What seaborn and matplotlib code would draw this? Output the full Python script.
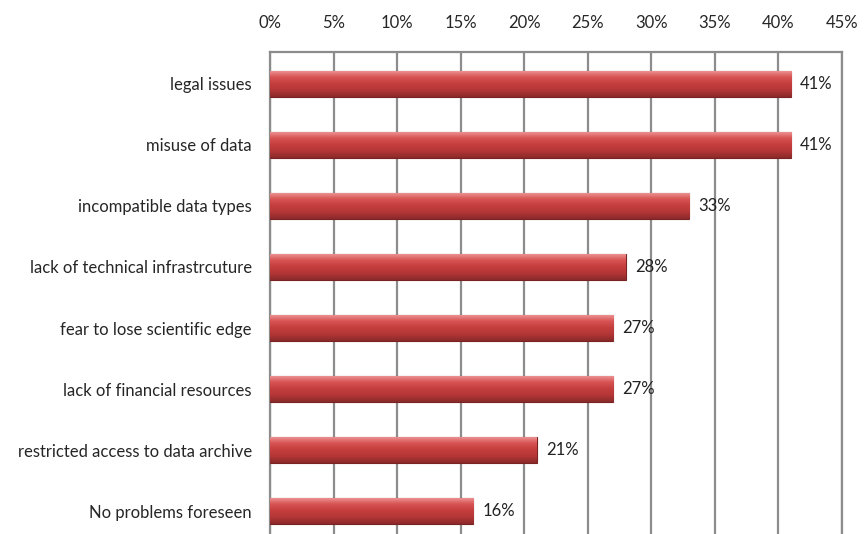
import numpy as np
import pandas as pd
import matplotlib
matplotlib.use("Agg")
import matplotlib.pyplot as plt
import seaborn as sns
from matplotlib.colors import LinearSegmentedColormap

# survey answers, share of respondents (%)
categories = [
    "legal issues",
    "misuse of data",
    "incompatible data types",
    "lack of technical infrastrcuture",
    "fear to lose scientific edge",
    "lack of financial resources",
    "restricted access to data archive",
    "No problems foreseen",
]
shares = [41, 41, 33, 28, 27, 27, 21, 16]
x_ticks = [0, 5, 10, 15, 20, 25, 30, 35, 40, 45]

df = pd.DataFrame({"problem": categories, "share": shares})

sns.set_style("white")
plt.rcParams["font.family"] = ["Lato", "DejaVu Sans"]

fig = plt.figure(figsize=(8.67, 5.34), dpi=100)
ax = fig.add_axes([0.3114, -0.0169, 0.6598, 0.9195])

sns.barplot(data=df, x="share", y="problem", orient="h", color="#C0393A",
            width=0.43, ax=ax, zorder=3)

# shaded look on each bar: light on top, dark at the bottom
shade = LinearSegmentedColormap.from_list(
    "bar_shade", ["#F09A9A", "#D85454", "#C63E3E", "#B43636", "#8A2A2A"])
grad = np.linspace(0, 1, 64).reshape(-1, 1)
for patch in ax.patches:
    x0, y0 = patch.get_x(), patch.get_y()
    w, h = patch.get_width(), patch.get_height()
    im = ax.imshow(grad, cmap=shade, aspect="auto", zorder=3.5,
                   extent=(x0, x0 + w, y0 + h, y0), origin="upper")
    im.set_clip_path(patch)
    patch.set_edgecolor("#7A2222")
    patch.set_linewidth(0.8)

for i, v in enumerate(shares):
    ax.text(v + 0.7, i, f"{v}%", va="center", ha="left", fontsize=12,
            color="#222222", zorder=5)

ax.set_xlim(0, 45)
ax.set_ylim(7.52, -0.52)
ax.set_xticks(x_ticks)
ax.set_xticklabels([f"{t}%" for t in x_ticks], fontsize=12)
ax.xaxis.tick_top()
ax.tick_params(axis="x", length=0, pad=15)
ax.tick_params(axis="y", length=0, pad=13, labelsize=12)
ax.set_xlabel("")
ax.set_ylabel("")

ax.grid(axis="x", color="#8C8C8C", linewidth=1.6, zorder=0)
ax.set_axisbelow(True)
for side in ["left", "top", "right"]:
    ax.spines[side].set_color("#8C8C8C")
    ax.spines[side].set_linewidth(1.6)
ax.spines["bottom"].set_visible(False)

fig.savefig("out.png", dpi=100)
